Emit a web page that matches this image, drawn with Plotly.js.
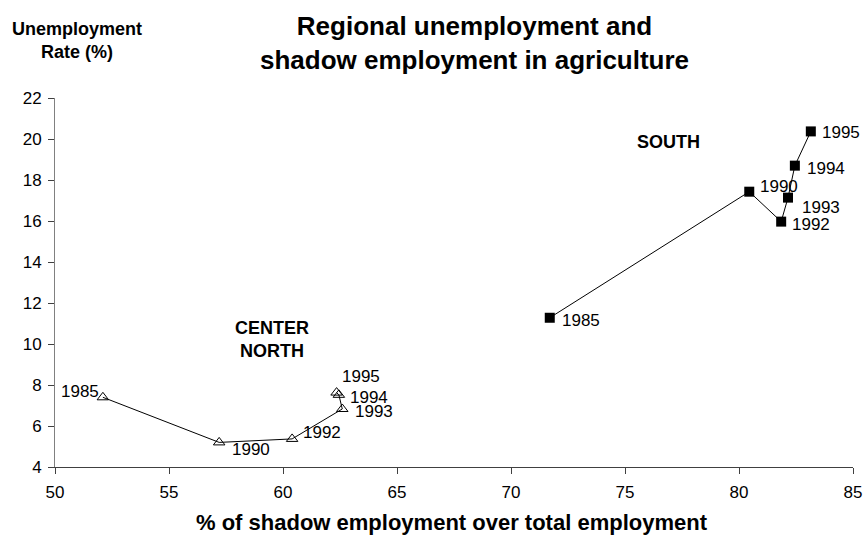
<!DOCTYPE html>
<html><head><meta charset="utf-8">
<script src="https://cdn.plot.ly/plotly-3.0.1.min.js"></script>
<style>html,body{margin:0;padding:0;background:#fff}#chart{width:865px;height:538px}</style>
</head><body><div id="chart"></div>
<script>
const years = ["1985","1990","1992","1993","1994","1995"];
const northShadow = [52.1, 57.2, 60.4, 62.6, 62.45, 62.35];
const northUnemp  = [7.4, 5.2, 5.37, 6.83, 7.52, 7.63];
const southShadow = [71.7, 80.45, 81.85, 82.15, 82.45, 83.15];
const southUnemp  = [11.28, 17.43, 15.97, 17.14, 18.7, 20.37];
const xTicks = [50,55,60,65,70,75,80,85];
const yTicks = [4,6,8,10,12,14,16,18,20,22];

const F = "Liberation Sans, Arial, sans-serif";
const L = 55, R = 853, T = 98, B = 467;
const px = v => (v - L) / (R - L);
const py = v => (B - v) / (B - T);

// label offsets (pixels) from each point: [dx, dy(down), anchor]
const northOffsets = [[-3, -6, "right"], [12, 7, "left"], [10, -6, "left"], [12, 3, "left"], [10, 3, "left"], [4, -16, "left"]];
const southOffsets = [[11, 3, "left"], [10, -5, "left"], [10, 3, "left"], [13, 10, "left"], [11, 3, "left"], [10, 1, "left"]];

function labels(xs, ys, offs) {
  return xs.map((x, i) => ({
    x: x, y: ys[i], xref: "x", yref: "y", text: years[i], showarrow: false,
    xanchor: offs[i][2], yanchor: "middle", xshift: offs[i][0], yshift: -offs[i][1],
    font: {family: F, size: 17, color: "#000"}, borderpad: 0
  }));
}

const traces = [
  {x: northShadow, y: northUnemp, mode: "lines+markers",
   line: {color: "#000", width: 1},
   marker: {symbol: "triangle-up-open", size: 10, color: "#000", line: {width: 1, color: "#000"}},
   cliponaxis: false, hoverinfo: "none"},
  {x: southShadow, y: southUnemp, mode: "lines+markers",
   line: {color: "#000", width: 1},
   marker: {symbol: "square", size: 10, color: "#000"},
   cliponaxis: false, hoverinfo: "none"}
];
const layout = {
  width: 865, height: 538, showlegend: false,
  paper_bgcolor: "#fff", plot_bgcolor: "#fff",
  margin: {l: L, r: 865 - R, t: T, b: 538 - B},
  font: {family: F, size: 17, color: "#000"},
  xaxis: {range: [50, 85], tickvals: xTicks, ticktext: xTicks.map(String), showgrid: false, zeroline: false,
          showline: true, linecolor: "#404040", linewidth: 1, ticks: "outside", ticklen: 6, tickcolor: "#404040",
          ticklabelstandoff: 4, tickfont: {family: F, size: 17}, automargin: false},
  yaxis: {range: [4, 22], tickvals: yTicks, ticktext: yTicks.map(String), showgrid: false, zeroline: false,
          showline: true, linecolor: "#808080", linewidth: 1, ticks: "outside", ticklen: 6, tickcolor: "#404040",
          ticklabelstandoff: 3, tickfont: {family: F, size: 17}, automargin: false},
  annotations: [
    {text: "<b>Regional unemployment and<br>shadow employment in agriculture</b>", xref: "paper", yref: "paper",
     x: px(474), y: py(43.5), xanchor: "center", yanchor: "middle", showarrow: false,
     font: {family: F, size: 26}, align: "center"},
    {text: "<b>Unemployment<br>Rate (%)</b>", xref: "paper", yref: "paper", x: px(77), y: py(41),
     xanchor: "center", yanchor: "middle", showarrow: false, font: {family: F, size: 18}, align: "center"},
    {text: "<b>% of shadow employment over total employment</b>", xref: "paper", yref: "paper",
     x: px(452), y: py(522), xanchor: "center", yanchor: "middle", showarrow: false, font: {family: F, size: 22}},
    {text: "<b>SOUTH</b>", xref: "paper", yref: "paper", x: px(668), y: py(142),
     xanchor: "center", yanchor: "middle", showarrow: false, font: {family: F, size: 18}},
    {text: "<b>CENTER<br>NORTH</b>", xref: "paper", yref: "paper", x: px(272), y: py(339),
     xanchor: "center", yanchor: "middle", showarrow: false, font: {family: F, size: 18}, align: "center"}
  ].concat(labels(northShadow, northUnemp, northOffsets), labels(southShadow, southUnemp, southOffsets))
};
Plotly.newPlot("chart", traces, layout, {staticPlot: true});
</script></body></html>
